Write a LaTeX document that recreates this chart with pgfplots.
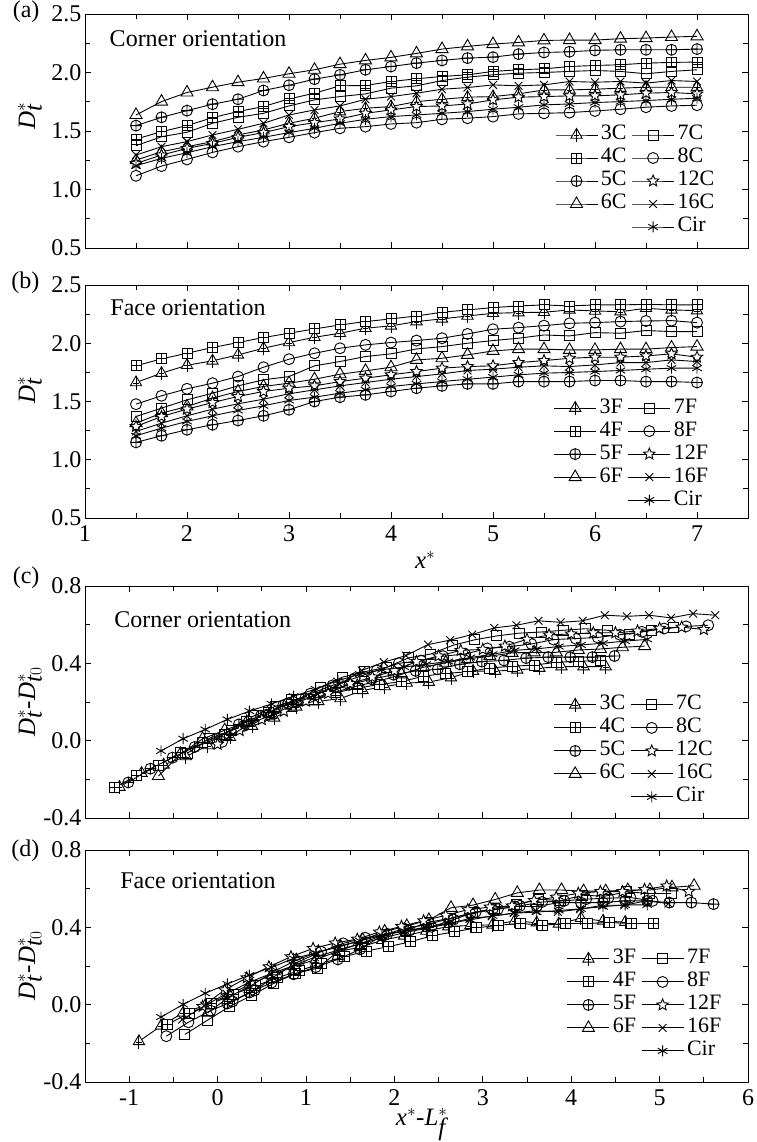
\documentclass[border=0pt]{standalone}
\usepackage{pgfplots}
\pgfplotsset{compat=1.18}
\usepackage{pgfplotstable}
\usepackage{fontspec}
\setmainfont{Liberation Serif}

\pgfdeclareplotmark{triplus}{%
  \pgfpathmoveto{\pgfqpointpolar{90}{\pgfplotmarksize}}%
  \pgfpathlineto{\pgfqpointpolar{210}{\pgfplotmarksize}}%
  \pgfpathlineto{\pgfqpointpolar{330}{\pgfplotmarksize}}%
  \pgfpathclose
  \pgfusepathqfillstroke
  \pgfpathmoveto{\pgfqpoint{0pt}{-1.1\pgfplotmarksize}}%
  \pgfpathlineto{\pgfqpoint{0pt}{\pgfplotmarksize}}%
  \pgfpathmoveto{\pgfqpoint{-0.45\pgfplotmarksize}{-0.1\pgfplotmarksize}}%
  \pgfpathlineto{\pgfqpoint{0.45\pgfplotmarksize}{-0.1\pgfplotmarksize}}%
  \pgfusepathqstroke
}
\pgfdeclareplotmark{sqplus}{%
  \pgfpathrectangle{\pgfqpoint{-\pgfplotmarksize}{-\pgfplotmarksize}}{\pgfqpoint{2\pgfplotmarksize}{2\pgfplotmarksize}}%
  \pgfusepathqfillstroke
  \pgfpathmoveto{\pgfqpoint{-\pgfplotmarksize}{0pt}}\pgfpathlineto{\pgfqpoint{\pgfplotmarksize}{0pt}}%
  \pgfpathmoveto{\pgfqpoint{0pt}{-\pgfplotmarksize}}\pgfpathlineto{\pgfqpoint{0pt}{\pgfplotmarksize}}%
  \pgfusepathqstroke
}
\pgfdeclareplotmark{ostar}{%
  \pgfpathmoveto{\pgfqpointpolar{90}{\pgfplotmarksize}}%
  \pgfpathlineto{\pgfqpointpolar{126}{0.45\pgfplotmarksize}}%
  \pgfpathlineto{\pgfqpointpolar{162}{\pgfplotmarksize}}%
  \pgfpathlineto{\pgfqpointpolar{198}{0.45\pgfplotmarksize}}%
  \pgfpathlineto{\pgfqpointpolar{234}{\pgfplotmarksize}}%
  \pgfpathlineto{\pgfqpointpolar{270}{0.45\pgfplotmarksize}}%
  \pgfpathlineto{\pgfqpointpolar{306}{\pgfplotmarksize}}%
  \pgfpathlineto{\pgfqpointpolar{342}{0.45\pgfplotmarksize}}%
  \pgfpathlineto{\pgfqpointpolar{18}{\pgfplotmarksize}}%
  \pgfpathlineto{\pgfqpointpolar{54}{0.45\pgfplotmarksize}}%
  \pgfpathclose
  \pgfusepathqfillstroke
}

\pgfplotsset{
  s3/.style={mark=triplus, mark size=6.5pt},
  s4/.style={mark=sqplus, mark size=5pt},
  s5/.style={mark=oplus, mark size=5.5pt},
  s6/.style={mark=triangle, mark size=7pt},
  s7/.style={mark=square, mark size=5pt},
  s8/.style={mark=o, mark size=5.5pt},
  s12/.style={mark=ostar, mark size=6pt},
  s16/.style={mark=x, mark size=5.5pt},
  sC/.style={mark=asterisk, mark size=5.5pt},
  panel/.style={
    scale only axis, width=663pt, anchor=south west, clip mode=individual,
    axis line style={line width=0.9pt},
    every tick/.style={black, line width=0.9pt},
    major tick length=6pt, minor tick length=5pt,
    tick align=inside, xtick pos=both, ytick pos=both,
    every tick label/.append style={font=\fontsize{24}{24}\selectfont},
    xticklabel style={yshift=-4pt},
    every axis plot/.append style={black, line width=0.9pt, mark options={fill=white, solid}},
    legend columns=2,
    legend cell align=left,
    legend style={draw=none, fill=none, inner sep=0pt, outer sep=0pt, anchor=north west,
      font=\fontsize{22}{22}\selectfont,
      nodes={text height=14pt, text depth=4pt, inner ysep=2.5pt, inner xsep=3pt},
      /tikz/every even column/.append style={column sep=2pt}},
    legend image code/.code={\draw[mark repeat=2,mark phase=2] plot coordinates {(0pt,0pt) (21pt,0pt) (42pt,0pt)};},
  },
  panelab/.style={panel, xmin=1, xmax=7.5, ymin=0.5, ymax=2.5,
    xtick={1,2,3,4,5,6,7}, minor xtick={1.5,2.5,3.5,4.5,5.5,6.5,7.5},
    ytick={0.5,1,1.5,2,2.5}, yticklabels={0.5,1.0,1.5,2.0,2.5}, minor ytick={0.75,1.25,1.75,2.25}},
  panelcd/.style={panel, xmin=-1.5, xmax=6, ymin=-0.4, ymax=0.8,
    xtick={-1,0,1,2,3,4,5,6}, minor xtick={-1.5,-0.5,0.5,1.5,2.5,3.5,4.5,5.5},
    ytick={-0.4,0,0.4,0.8}, yticklabels={-0.4,0.0,0.4,0.8}, minor ytick={-0.2,0.2,0.6}},
}

\pgfplotstableread{
x    c3    c4    c5    c6    c7    c8    c12   c16   cir
1.5  1.251 1.431 1.546 1.637 1.374 1.117 1.223 1.294 1.203
1.75 1.323 1.494 1.617 1.751 1.451 1.200 1.294 1.366 1.266
2.0  1.366 1.546 1.674 1.829 1.489 1.257 1.351 1.409 1.314
2.25 1.409 1.614 1.729 1.874 1.566 1.317 1.394 1.466 1.366
2.5  1.466 1.666 1.771 1.917 1.617 1.366 1.446 1.514 1.409
2.75 1.509 1.709 1.846 1.949 1.651 1.409 1.486 1.566 1.446
3.0  1.566 1.774 1.891 1.989 1.714 1.446 1.537 1.637 1.486
3.25 1.609 1.823 1.943 2.023 1.766 1.486 1.571 1.680 1.523
3.5  1.666 1.886 1.980 2.071 1.794 1.523 1.603 1.714 1.566
3.75 1.694 1.889 2.023 2.103 1.817 1.537 1.651 1.771 1.600
4.0  1.709 1.923 2.051 2.129 1.866 1.560 1.680 1.794 1.623
4.25 1.751 1.946 2.080 2.163 1.886 1.571 1.709 1.823 1.637
4.5  1.771 1.966 2.103 2.200 1.931 1.600 1.714 1.857 1.651
4.75 1.789 1.980 2.123 2.223 1.960 1.609 1.731 1.871 1.666
5.0  1.794 2.009 2.131 2.243 1.980 1.623 1.766 1.894 1.686
5.25 1.817 2.023 2.157 2.257 1.994 1.646 1.789 1.886 1.703
5.5  1.851 2.031 2.171 2.274 2.000 1.651 1.794 1.894 1.723
5.75 1.851 2.051 2.177 2.277 2.009 1.657 1.800 1.923 1.731
6.0  1.857 2.060 2.189 2.277 2.017 1.671 1.800 1.917 1.743
6.25 1.866 2.066 2.194 2.289 2.009 1.686 1.809 1.923 1.751
6.5  1.874 2.080 2.194 2.294 1.989 1.703 1.823 1.909 1.760
6.75 1.874 2.086 2.194 2.303 2.009 1.714 1.829 1.931 1.771
7.0  1.874 2.089 2.200 2.309 2.023 1.720 1.817 1.923 1.780
}\tabA

\pgfplotstableread{
x    f3    f4    f5    f6    f7    f8    f12   f16   cir
1.5  1.663 1.806 1.149 1.314 1.371 1.477 1.286 1.243 1.206
1.75 1.743 1.866 1.206 1.400 1.443 1.549 1.371 1.314 1.271
2.0  1.811 1.914 1.257 1.457 1.514 1.609 1.434 1.377 1.329
2.25 1.849 1.963 1.300 1.529 1.571 1.657 1.491 1.434 1.377
2.5  1.900 2.006 1.337 1.586 1.634 1.714 1.543 1.480 1.423
2.75 1.957 2.049 1.377 1.629 1.686 1.794 1.586 1.520 1.463
3.0  2.006 2.086 1.429 1.657 1.714 1.863 1.614 1.566 1.509
3.25 2.051 2.123 1.500 1.691 1.806 1.914 1.634 1.600 1.537
3.5  2.086 2.157 1.537 1.734 1.843 1.957 1.671 1.634 1.571
3.75 2.129 2.186 1.557 1.763 1.886 1.986 1.700 1.663 1.600
4.0  2.149 2.209 1.586 1.794 1.909 2.006 1.729 1.691 1.629
4.25 2.186 2.234 1.614 1.857 1.951 2.023 1.757 1.714 1.651
4.5  2.209 2.266 1.634 1.871 1.971 2.043 1.786 1.737 1.671
4.75 2.234 2.286 1.651 1.900 2.000 2.080 1.800 1.766 1.691
5.0  2.257 2.306 1.651 1.934 2.023 2.120 1.806 1.777 1.709
5.25 2.263 2.320 1.671 1.949 2.043 2.134 1.834 1.794 1.729
5.5  2.266 2.329 1.671 1.949 2.071 2.151 1.851 1.806 1.743
5.75 2.286 2.320 1.671 1.943 2.063 2.171 1.871 1.800 1.749
6.0  2.277 2.329 1.680 1.943 2.091 2.177 1.880 1.814 1.757
6.25 2.271 2.329 1.680 1.949 2.086 2.186 1.880 1.834 1.766
6.5  2.300 2.334 1.671 1.949 2.109 2.191 1.891 1.834 1.777
6.75 2.286 2.329 1.671 1.963 2.100 2.194 1.909 1.857 1.786
7.0  2.280 2.329 1.663 1.971 2.100 2.177 1.880 1.843 1.786
}\tabB

\newcommand{\legC}[1]{%
  \addlegendimage{s3}\addlegendentry{3#1}
  \addlegendimage{s7}\addlegendentry{7#1}
  \addlegendimage{s4}\addlegendentry{4#1}
  \addlegendimage{s8}\addlegendentry{8#1}
  \addlegendimage{s5}\addlegendentry{5#1}
  \addlegendimage{s12}\addlegendentry{12#1}
  \addlegendimage{s6}\addlegendentry{6#1}
  \addlegendimage{s16}\addlegendentry{16#1}
  \addlegendimage{empty legend}\addlegendentry{}
  \addlegendimage{sC}\addlegendentry{Cir}}

\newcommand{\lab}{\fontsize{25}{25}\selectfont}
\newcommand{\ann}{\fontsize{24}{24}\selectfont}
\newcommand{\pl}{\fontsize{24}{24}\selectfont}

\begin{document}
\begin{tikzpicture}[x=1pt,y=1pt]
\useasboundingbox (0,0) rectangle (756,1142);

% ---------------- (a)
\begin{axis}[panelab, at={(85pt,894pt)}, height=234pt, xticklabels={},
  legend style={at={(rel axis cs:0.709,0.532)}}]
\legC{C}
\addplot[s3, forget plot] table[x=x,y=c3]{\tabA};
\addplot[s4, forget plot] table[x=x,y=c4]{\tabA};
\addplot[s5, forget plot] table[x=x,y=c5]{\tabA};
\addplot[s6, forget plot] table[x=x,y=c6]{\tabA};
\addplot[s7, forget plot] table[x=x,y=c7]{\tabA};
\addplot[s8, forget plot] table[x=x,y=c8]{\tabA};
\addplot[s12, forget plot] table[x=x,y=c12]{\tabA};
\addplot[s16, forget plot] table[x=x,y=c16]{\tabA};
\addplot[sC, forget plot] table[x=x,y=cir]{\tabA};
\node[anchor=base west, font=\ann] at (rel axis cs:0.032,0.859) {Corner orientation};
\node[anchor=base east, font=\pl] at (rel axis cs:0,1) [xshift=-42pt, yshift=-4pt] {(a)};
\node[rotate=90, font=\lab] at (axis description cs:-0.083,0.564) {\textit{D}$_{\textit{t}}^{*}$};
\end{axis}

% ---------------- (b)
\begin{axis}[panelab, at={(85pt,624pt)}, height=233pt, xticklabels={1,2,3,4,5,6,7},
  legend style={at={(rel axis cs:0.707,0.521)}}]
\legC{F}
\addplot[s3, forget plot] table[x=x,y=f3]{\tabB};
\addplot[s4, forget plot] table[x=x,y=f4]{\tabB};
\addplot[s5, forget plot] table[x=x,y=f5]{\tabB};
\addplot[s6, forget plot] table[x=x,y=f6]{\tabB};
\addplot[s7, forget plot] table[x=x,y=f7]{\tabB};
\addplot[s8, forget plot] table[x=x,y=f8]{\tabB};
\addplot[s12, forget plot] table[x=x,y=f12]{\tabB};
\addplot[s16, forget plot] table[x=x,y=f16]{\tabB};
\addplot[sC, forget plot] table[x=x,y=cir]{\tabB};
\node[anchor=base west, font=\ann] at (rel axis cs:0.033,0.871) {Face orientation};
\node[anchor=base east, font=\pl] at (rel axis cs:0,1) [xshift=-42pt, yshift=-4pt] {(b)};
\node[rotate=90, font=\lab] at (axis description cs:-0.083,0.549) {\textit{D}$_{\textit{t}}^{*}$};
\node[font=\lab] at (axis description cs:0.513,-0.18) {\textit{x}$^{*}$};
\end{axis}

% ---------------- (c)
\begin{axis}[panelcd, at={(85pt,324pt)}, height=232pt, xticklabels={},
  legend style={at={(rel axis cs:0.707,0.537)}}]
\legC{C}
\addplot[s3, forget plot] coordinates {(-1.11,-0.24)(-0.86,-0.168)(-0.61,-0.125)(-0.36,-0.082)(-0.11,-0.025)(0.14,0.018)(0.39,0.075)(0.64,0.118)(0.89,0.175)(1.14,0.203)(1.39,0.218)(1.64,0.26)(1.89,0.28)(2.14,0.298)(2.39,0.303)(2.64,0.326)(2.89,0.36)(3.14,0.36)(3.39,0.366)(3.64,0.375)(3.89,0.383)(4.14,0.383)(4.39,0.383)};
\addplot[s4, forget plot] coordinates {(-1.17,-0.244)(-0.92,-0.181)(-0.67,-0.129)(-0.42,-0.061)(-0.17,-0.009)(0.08,0.034)(0.33,0.099)(0.58,0.148)(0.83,0.211)(1.08,0.214)(1.33,0.248)(1.58,0.271)(1.83,0.291)(2.08,0.305)(2.33,0.334)(2.58,0.348)(2.83,0.356)(3.08,0.376)(3.33,0.385)(3.58,0.391)(3.83,0.405)(4.08,0.411)(4.33,0.414)};
\addplot[s5, forget plot] coordinates {(-1.01,-0.216)(-0.76,-0.145)(-0.51,-0.088)(-0.26,-0.033)(-0.01,0.009)(0.24,0.084)(0.49,0.129)(0.74,0.181)(0.99,0.218)(1.24,0.261)(1.49,0.289)(1.74,0.318)(1.99,0.341)(2.24,0.361)(2.49,0.369)(2.74,0.395)(2.99,0.409)(3.24,0.415)(3.49,0.427)(3.74,0.432)(3.99,0.432)(4.24,0.432)(4.49,0.438)};
\addplot[s6, forget plot] coordinates {(-0.67,-0.183)(-0.42,-0.069)(-0.17,0.009)(0.08,0.054)(0.33,0.097)(0.58,0.129)(0.83,0.169)(1.08,0.203)(1.33,0.251)(1.58,0.283)(1.83,0.309)(2.08,0.343)(2.33,0.38)(2.58,0.403)(2.83,0.423)(3.08,0.437)(3.33,0.454)(3.58,0.457)(3.83,0.457)(4.08,0.469)(4.33,0.474)(4.58,0.483)(4.83,0.489)};
\addplot[s7, forget plot] coordinates {(-0.34,-0.064)(-0.09,0.013)(0.16,0.051)(0.41,0.128)(0.66,0.179)(0.91,0.213)(1.16,0.276)(1.41,0.328)(1.66,0.356)(1.91,0.379)(2.16,0.428)(2.41,0.448)(2.66,0.493)(2.91,0.522)(3.16,0.542)(3.41,0.556)(3.66,0.562)(3.91,0.571)(4.16,0.579)(4.41,0.571)(4.66,0.551)(4.91,0.571)(5.16,0.585)};
\addplot[s8, forget plot] coordinates {(0.05,-0.006)(0.3,0.077)(0.55,0.134)(0.8,0.194)(1.05,0.243)(1.3,0.286)(1.55,0.323)(1.8,0.363)(2.05,0.4)(2.3,0.414)(2.55,0.437)(2.8,0.448)(3.05,0.477)(3.3,0.486)(3.55,0.5)(3.8,0.523)(4.05,0.528)(4.3,0.534)(4.55,0.548)(4.8,0.563)(5.05,0.58)(5.3,0.591)(5.55,0.597)};
\addplot[s12, forget plot] coordinates {(0,-0.019)(0.25,0.052)(0.5,0.109)(0.75,0.152)(1,0.204)(1.25,0.244)(1.5,0.295)(1.75,0.329)(2,0.361)(2.25,0.409)(2.5,0.438)(2.75,0.467)(3,0.472)(3.25,0.489)(3.5,0.524)(3.75,0.547)(4,0.552)(4.25,0.558)(4.5,0.558)(4.75,0.567)(5,0.581)(5.25,0.587)(5.5,0.575)};
\addplot[s16, forget plot] coordinates {(0.13,0.02)(0.38,0.092)(0.63,0.135)(0.88,0.192)(1.13,0.24)(1.38,0.292)(1.63,0.363)(1.88,0.406)(2.13,0.44)(2.38,0.497)(2.63,0.52)(2.88,0.549)(3.13,0.583)(3.38,0.597)(3.63,0.62)(3.88,0.612)(4.13,0.62)(4.38,0.649)(4.63,0.643)(4.88,0.649)(5.13,0.635)(5.38,0.657)(5.63,0.649)};
\addplot[sC, forget plot] coordinates {(-0.64,-0.053)(-0.39,0.01)(-0.14,0.058)(0.11,0.11)(0.36,0.153)(0.61,0.19)(0.86,0.23)(1.11,0.267)(1.36,0.31)(1.61,0.344)(1.86,0.367)(2.11,0.381)(2.36,0.395)(2.61,0.41)(2.86,0.43)(3.11,0.447)(3.36,0.467)(3.61,0.475)(3.86,0.487)(4.11,0.495)(4.36,0.504)(4.61,0.515)(4.86,0.524)};
\node[anchor=base west, font=\ann] at (rel axis cs:0.039,0.823) {Corner orientation};
\node[anchor=base east, font=\pl] at (rel axis cs:0,1) [xshift=-42pt, yshift=2pt] {(c)};
\node[rotate=90, font=\lab] at (axis description cs:-0.083,0.5) {\textit{D}$_{\textit{t}}^{*}$-\textit{D}$_{\textit{t}0}^{*}$};
\end{axis}

% ---------------- (d)
\begin{axis}[panelcd, at={(85pt,60pt)}, height=232pt, xticklabels={-1,0,1,2,3,4,5,6},
  legend style={at={(rel axis cs:0.727,0.58)}}]
\legC{F}
\addplot[s3, forget plot] coordinates {(-0.89,-0.19)(-0.64,-0.11)(-0.39,-0.042)(-0.14,-0.004)(0.11,0.047)(0.36,0.104)(0.61,0.153)(0.86,0.198)(1.11,0.233)(1.36,0.276)(1.61,0.296)(1.86,0.333)(2.11,0.356)(2.36,0.381)(2.61,0.404)(2.86,0.41)(3.11,0.413)(3.36,0.433)(3.61,0.424)(3.86,0.418)(4.11,0.447)(4.36,0.433)(4.61,0.427)};
\addplot[s4, forget plot] coordinates {(-0.57,-0.103)(-0.32,-0.043)(-0.07,0.005)(0.18,0.054)(0.43,0.097)(0.68,0.14)(0.93,0.177)(1.18,0.214)(1.43,0.248)(1.68,0.277)(1.93,0.3)(2.18,0.325)(2.43,0.357)(2.68,0.377)(2.93,0.397)(3.18,0.411)(3.43,0.42)(3.68,0.411)(3.93,0.42)(4.18,0.42)(4.43,0.425)(4.68,0.42)(4.93,0.42)};
\addplot[s5, forget plot] coordinates {(0.11,0.006)(0.36,0.063)(0.61,0.114)(0.86,0.157)(1.11,0.194)(1.36,0.234)(1.61,0.286)(1.86,0.357)(2.11,0.394)(2.36,0.414)(2.61,0.443)(2.86,0.471)(3.11,0.491)(3.36,0.508)(3.61,0.508)(3.86,0.528)(4.11,0.528)(4.36,0.528)(4.61,0.537)(4.86,0.537)(5.11,0.528)(5.36,0.528)(5.61,0.52)};
\addplot[s6, forget plot] coordinates {(-0.11,-0.042)(0.14,0.044)(0.39,0.101)(0.64,0.173)(0.89,0.23)(1.14,0.273)(1.39,0.301)(1.64,0.335)(1.89,0.378)(2.14,0.407)(2.39,0.438)(2.64,0.501)(2.89,0.515)(3.14,0.544)(3.39,0.578)(3.64,0.593)(3.89,0.593)(4.14,0.587)(4.39,0.587)(4.64,0.593)(4.89,0.593)(5.14,0.607)(5.39,0.615)};
\addplot[s7, forget plot] coordinates {(-0.37,-0.154)(-0.12,-0.082)(0.13,-0.011)(0.38,0.046)(0.63,0.109)(0.88,0.161)(1.13,0.189)(1.38,0.281)(1.63,0.318)(1.88,0.361)(2.13,0.384)(2.38,0.426)(2.63,0.446)(2.88,0.475)(3.13,0.498)(3.38,0.518)(3.63,0.546)(3.88,0.538)(4.13,0.566)(4.38,0.561)(4.63,0.584)(4.88,0.575)(5.13,0.575)};
\addplot[s8, forget plot] coordinates {(-0.58,-0.163)(-0.33,-0.091)(-0.08,-0.031)(0.17,0.017)(0.42,0.074)(0.67,0.154)(0.92,0.223)(1.17,0.274)(1.42,0.317)(1.67,0.346)(1.92,0.366)(2.17,0.383)(2.42,0.403)(2.67,0.44)(2.92,0.48)(3.17,0.494)(3.42,0.511)(3.67,0.531)(3.92,0.537)(4.17,0.546)(4.42,0.551)(4.67,0.554)(4.92,0.537)};
\addplot[s12, forget plot] coordinates {(-0.17,-0.009)(0.08,0.076)(0.33,0.139)(0.58,0.196)(0.83,0.248)(1.08,0.291)(1.33,0.319)(1.58,0.339)(1.83,0.376)(2.08,0.405)(2.33,0.434)(2.58,0.462)(2.83,0.491)(3.08,0.505)(3.33,0.511)(3.58,0.539)(3.83,0.556)(4.08,0.576)(4.33,0.585)(4.58,0.585)(4.83,0.596)(5.08,0.614)(5.33,0.585)};
\addplot[s16, forget plot] coordinates {(-0.4,-0.077)(-0.15,-0.006)(0.1,0.057)(0.35,0.114)(0.6,0.16)(0.85,0.2)(1.1,0.246)(1.35,0.28)(1.6,0.314)(1.85,0.343)(2.1,0.371)(2.35,0.394)(2.6,0.417)(2.85,0.446)(3.1,0.457)(3.35,0.474)(3.6,0.486)(3.85,0.48)(4.1,0.494)(4.35,0.514)(4.6,0.514)(4.85,0.537)(5.1,0.523)};
\addplot[sC, forget plot] coordinates {(-0.64,-0.064)(-0.39,0.001)(-0.14,0.059)(0.11,0.107)(0.36,0.153)(0.61,0.193)(0.86,0.239)(1.11,0.267)(1.36,0.301)(1.61,0.33)(1.86,0.359)(2.11,0.381)(2.36,0.401)(2.61,0.421)(2.86,0.439)(3.11,0.459)(3.36,0.473)(3.61,0.479)(3.86,0.487)(4.11,0.496)(4.36,0.507)(4.61,0.516)(4.86,0.516)};
\node[anchor=base west, font=\ann] at (rel axis cs:0.048,0.832) {Face orientation};
\node[anchor=base east, font=\pl] at (rel axis cs:0,1) [xshift=-42pt, yshift=-6pt] {(d)};
\node[rotate=90, font=\lab] at (axis description cs:-0.083,0.5) {\textit{D}$_{\textit{t}}^{*}$-\textit{D}$_{\textit{t}0}^{*}$};
\node[font=\lab] at (axis description cs:0.508,-0.185) {\textit{x}$^{*}$-\textit{L}$_{\textit{f}}^{*}$};
\end{axis}
\end{tikzpicture}
\end{document}
